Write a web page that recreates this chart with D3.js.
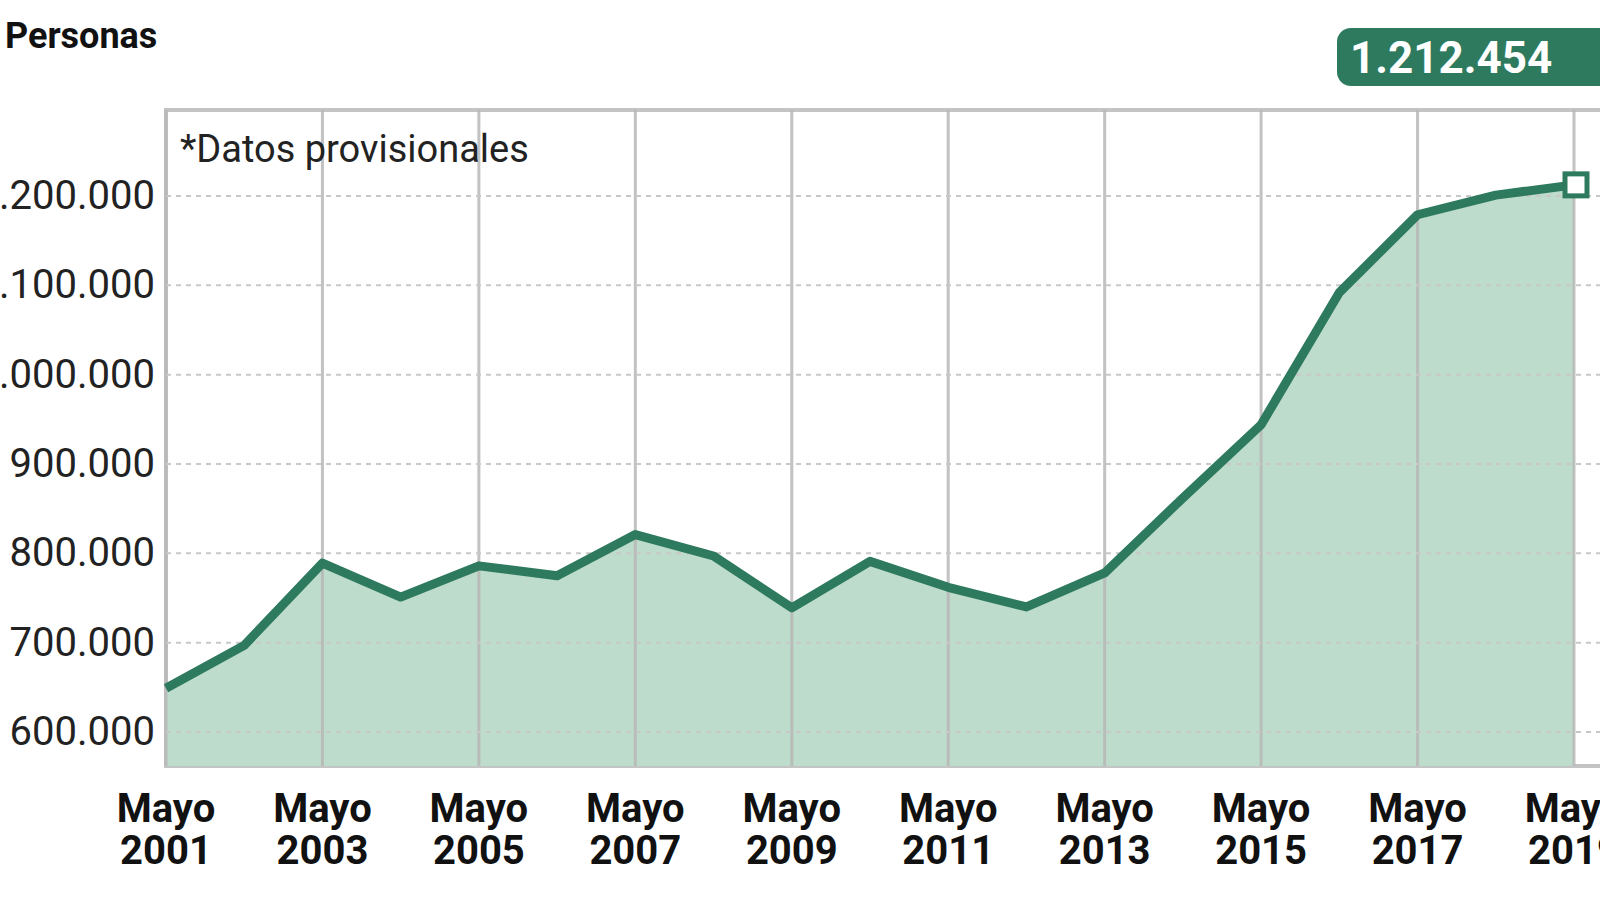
<!DOCTYPE html><html><head><meta charset="utf-8">
<script src="https://cdn.jsdelivr.net/npm/d3@7"></script>
<style>body{margin:0;background:#fff}svg{display:block}</style></head><body>
<svg id="c" width="1600" height="900"></svg>
<script>
const years=[2001,2002,2003,2004,2005,2006,2007,2008,2009,2010,2011,2012,2013,2014,2015,2016,2017,2018,2019];
const values=[649000,697000,789000,751000,786000,775000,821000,797000,739000,791000,762000,740000,778000,862000,944000,1092000,1179000,1201000,1212454];
const yTicks=[600000,700000,800000,900000,1000000,1100000,1200000];
const xTickYears=[2001,2003,2005,2007,2009,2011,2013,2015,2017,2019];
const lastLabel="1.212.454";
(function(){
const green="#2e7a5f",fillc="#bedccb",grid="#c4c4c4";
const svg=d3.select("#c");
const x=d3.scaleLinear().domain([2001,2019]).range([166,1574]);
const y=d3.scaleLinear().domain([600000,1200000]).range([732,196]);
const pTop=110,pBot=766,font="'Liberation Sans Narrow','Roboto',sans-serif";
const fmt=v=>d3.format(",")(v).replace(/,/g,".");
svg.append("rect").attr("x",166).attr("y",pTop).attr("width",1500).attr("height",pBot-pTop).attr("fill","none").attr("stroke",grid).attr("stroke-width",4);
svg.append("path").datum(values).attr("fill",fillc)
 .attr("d",d3.area().x((d,i)=>x(years[i])).y0(pBot).y1(d=>y(d)));
svg.selectAll(".vg").data(xTickYears).join("line").attr("x1",d=>x(d)).attr("x2",d=>x(d)).attr("y1",pTop).attr("y2",pBot).attr("stroke","#b8b8b8").attr("stroke-width",3).attr("opacity",0.85);
svg.selectAll(".hg").data(yTicks).join("line").attr("x1",166).attr("x2",1600).attr("y1",d=>y(d)).attr("y2",d=>y(d)).attr("stroke","#c8c8c8").attr("stroke-width",2).attr("stroke-dasharray","5,5");
svg.append("path").datum(values).attr("fill","none").attr("stroke",green).attr("stroke-width",9).attr("stroke-linejoin","round")
 .attr("d",d3.line().x((d,i)=>x(years[i])).y(d=>y(d)));
const lx=x(2019),ly=y(values[values.length-1]);
svg.append("rect").attr("x",lx-9).attr("y",ly-11).attr("width",22).attr("height",22).attr("fill","#fff").attr("stroke",green).attr("stroke-width",5);
svg.selectAll(".yl").data(yTicks).join("text").attr("x",155).attr("y",d=>y(d)+13).attr("text-anchor","end")
 .attr("font-family",font).attr("font-size",40).attr("fill","#222").text(d=>fmt(d));
const xl=svg.selectAll(".xl").data(xTickYears).join("text").attr("text-anchor","middle").attr("font-family",font).attr("font-weight","bold").attr("font-size",40).attr("fill","#111");
xl.append("tspan").attr("x",d=>x(d)).attr("y",822).text("Mayo");
xl.append("tspan").attr("x",d=>x(d)).attr("y",864).text(d=>d);
svg.append("text").attr("x",5).attr("y",48).attr("font-family","'Roboto','Liberation Sans',sans-serif").attr("font-weight","bold").attr("font-size",36).attr("fill","#111").text("Personas");
svg.append("text").attr("x",180).attr("y",162).attr("font-family",font).attr("font-size",38).attr("fill","#222").text("*Datos provisionales");
svg.append("rect").attr("x",1337).attr("y",28).attr("width",300).attr("height",58).attr("rx",14).attr("fill",green);
svg.append("text").attr("x",1350).attr("y",73).attr("font-family",font).attr("font-weight","bold").attr("font-size",44).attr("fill","#fff").text(lastLabel);
})();
</script></body></html>
